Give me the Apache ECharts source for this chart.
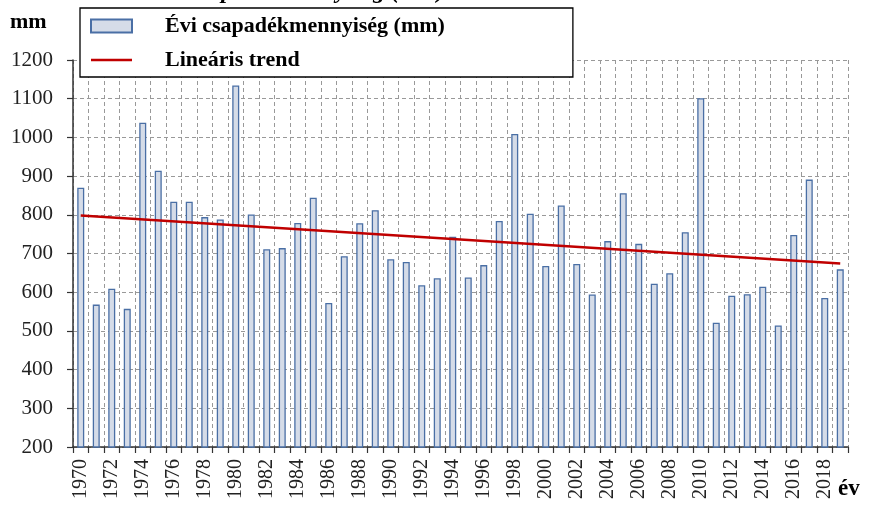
<!DOCTYPE html>
<html>
<head>
<meta charset="utf-8">
<script src="https://cdn.jsdelivr.net/npm/echarts@6/dist/echarts.min.js"></script>
<style>
  html, body { margin: 0; padding: 0; background: #fff; }
  #chart { width: 870px; height: 506px; }
</style>
</head>
<body>
<div id="chart"></div>
<script type="text/javascript">
// adatok
var years = [];
for (var y = 1970; y <= 2019; y++) { years.push(String(y)); }
var precip = [870, 568, 609, 557, 1038, 914, 834, 834, 794, 788,
              1134, 801, 711, 714, 779, 844, 572, 693, 778, 812,
              685, 678, 618, 636, 743, 638, 670, 784, 1009, 803,
              668, 824, 673, 594, 732, 856, 725, 622, 649, 755,
              1101, 521, 591, 595, 614, 514, 748, 891, 585, 659];
// trendvonal két végpontja (leolvasva)
var trendEnds = [798, 674];
var trendData = years.map(function (d, i) {
    if (i === 0) return trendEnds[0];
    if (i === years.length - 1) return trendEnds[1];
    return null;
});

var serif = '"Liberation Serif", "DejaVu Serif", serif';
var chart = echarts.init(document.getElementById('chart'));
var option = {
    animation: false,
    textStyle: { fontFamily: serif },
    grid: { left: 73, right: 22, top: 60, bottom: 59 },
    graphic: [
        { type: 'text', left: 10, top: 11, style: { text: 'mm', font: 'bold 22px ' + serif, fill: '#000' } },
        { type: 'text', left: 838, top: 478, style: { text: 'év', font: 'bold 23px ' + serif, fill: '#000' } },
        { type: 'text', left: 150, top: -20, z: 0, style: { text: 'Évi csapadékmennyiség (mm)', font: 'italic bold 24px ' + serif, fill: '#000' } }
    ],
    legend: {
        orient: 'vertical',
        left: 80,
        top: 8,
        padding: [7, 128, 6, 10],
        itemGap: 12,
        backgroundColor: '#fff',
        borderColor: '#000',
        borderWidth: 1.3,
        borderRadius: 0,
        itemWidth: 41,
        itemHeight: 13,
        textStyle: { fontFamily: serif, fontSize: 22, fontWeight: 'bold', color: '#000', padding: [0, 0, 0, 28] },
        data: [
            { name: 'Évi csapadékmennyiség (mm)', icon: 'rect' },
            { name: 'Lineáris trend', icon: 'path://M0,0 L40,0 L40,2.4 L0,2.4 Z', itemStyle: { color: '#c00000' } }
        ],
        z: 10
    },
    xAxis: {
        type: 'category',
        data: years,
        axisLine: { lineStyle: { color: '#333', width: 1.5 } },
        axisTick: { show: true, length: 6, interval: 0, lineStyle: { color: '#333', width: 1.2 } },
        axisLabel: { rotate: 90, interval: 1, fontSize: 20, color: '#222', margin: 12, fontFamily: serif },
        splitLine: { show: true, interval: 0, lineStyle: { color: '#999', type: [4, 3], width: 1 } }
    },
    yAxis: {
        type: 'value',
        min: 200,
        max: 1200,
        interval: 100,
        axisLine: { show: true, lineStyle: { color: '#333', width: 1.5 } },
        axisTick: { show: true, length: 6, lineStyle: { color: '#333', width: 1.2 } },
        axisLabel: { fontSize: 21, color: '#222', margin: 20, fontFamily: serif, formatter: function (v) { return String(v); } },
        splitLine: { show: true, lineStyle: { color: '#999', type: [4, 3], width: 1 } }
    },
    series: [
        {
            name: 'Évi csapadékmennyiség (mm)',
            type: 'bar',
            data: precip,
            barWidth: 7,
            itemStyle: { color: '#d5dce8', borderColor: '#4a6fa5', borderWidth: 1.3 }
        },
        {
            name: 'Lineáris trend',
            type: 'line',
            data: trendData,
            connectNulls: true,
            symbol: 'none',
            lineStyle: { color: '#c00000', width: 2.5 },
            itemStyle: { color: '#c00000' }
        }
    ]
};
chart.setOption(option);
</script>
</body>
</html>
